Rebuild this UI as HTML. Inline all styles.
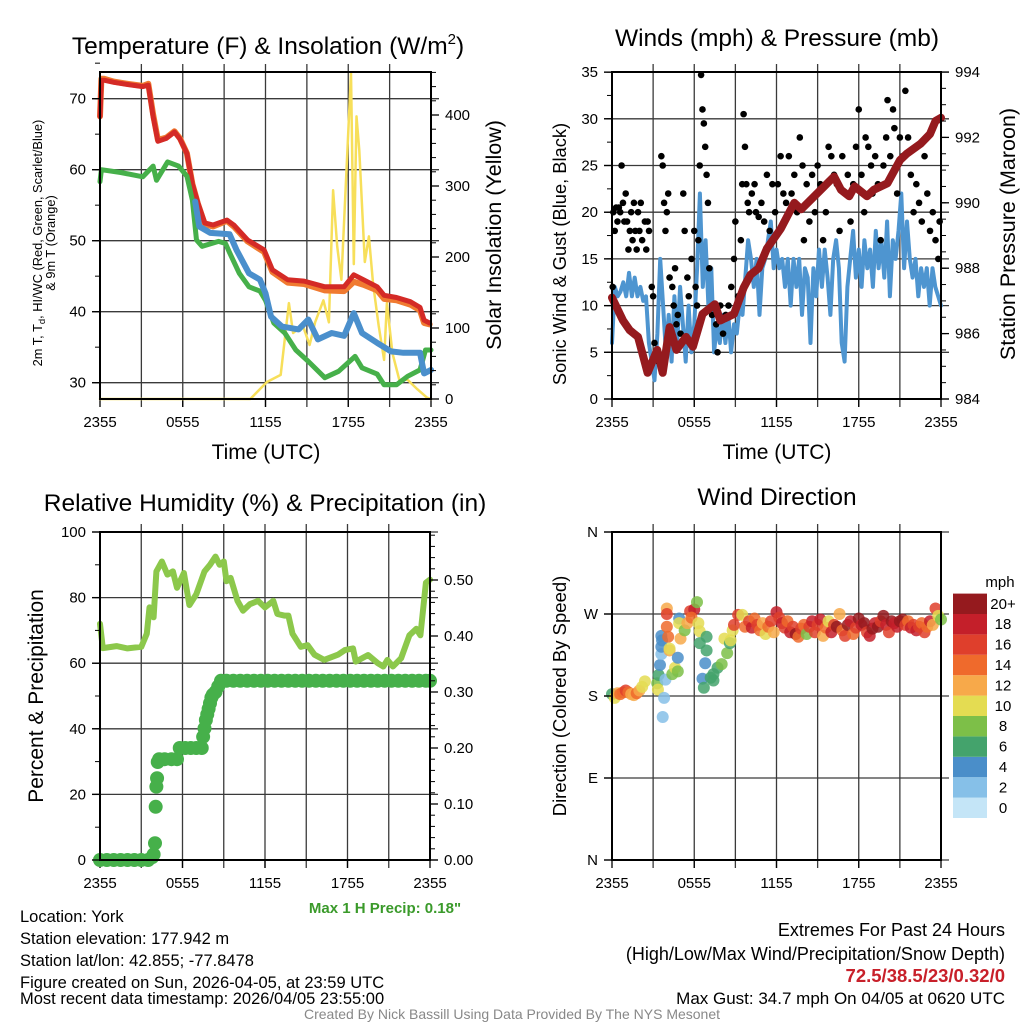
<!DOCTYPE html>
<html><head><meta charset="utf-8"><style>
html,body{margin:0;padding:0;background:#fff;}
svg{display:block;font-family:"Liberation Sans",sans-serif;}
</style></head><body>
<svg id="fig" width="1024" height="1024" viewBox="0 0 1024 1024">
<rect width="1024" height="1024" fill="#fff"/>
<g id="marks"></g>
<g font-size="24.5" text-anchor="middle" fill="#000">
<text x="268" y="54">Temperature (F) &amp; Insolation (W/m<tspan font-size="15" dy="-10">2</tspan><tspan dy="10">)</tspan></text>
<text x="777" y="46">Winds (mph) &amp; Pressure (mb)</text>
<text x="265" y="511">Relative Humidity (%) &amp; Precipitation (in)</text>
<text x="777" y="505">Wind Direction</text>
</g>
<g font-size="21" text-anchor="middle">
<text x="266" y="459">Time (UTC)</text>
<text x="777" y="459">Time (UTC)</text>
<text transform="translate(501,235) rotate(-90)" font-size="21.5">Solar Insolation (Yellow)</text>
<text transform="translate(566,254) rotate(-90)" font-size="18.3">Sonic Wind &amp; Gust (Blue, Black)</text>
<text transform="translate(1015,234) rotate(-90)" font-size="21.5">Station Pressure (Maroon)</text>
<text transform="translate(43,696) rotate(-90)">Percent &amp; Precipitation</text>
<text transform="translate(566,696) rotate(-90)" font-size="18.5">Direction (Colored By Speed)</text>
</g>
<g font-size="12.8" text-anchor="middle">
<text transform="translate(42,243) rotate(-90)">2m T, T<tspan font-size="9.5" dy="3">d</tspan><tspan dy="-3">, HI/WC (Red, Green, Scarlet/Blue)</tspan></text>
<text transform="translate(55,243) rotate(-90)">&amp; 9m T (Orange)</text>
</g>
<text x="385" y="913" font-size="15" font-weight="bold" fill="#3a9a2a" text-anchor="middle">Max 1 H Precip: 0.18"</text>
<g font-size="16.5">
<text x="20" y="922">Location: York</text>
<text x="20" y="944">Station elevation: 177.942 m</text>
<text x="20" y="966">Station lat/lon: 42.855; -77.8478</text>
<text x="20" y="988">Figure created on Sun, 2026-04-05, at 23:59 UTC</text>
<text x="20" y="1004">Most recent data timestamp: 2026/04/05 23:55:00</text>
</g>
<g font-size="18" text-anchor="end">
<text x="1005" y="936">Extremes For Past 24 Hours</text>
<text x="1005" y="960">(High/Low/Max Wind/Precipitation/Snow Depth)</text>
<text x="1005" y="982" fill="#c8202a" font-weight="bold" font-size="18.5">72.5/38.5/23/0.32/0</text>
<text x="1005" y="1004" font-size="17">Max Gust: 34.7 mph On 04/05 at 0620 UTC</text>
</g>
<text x="512" y="1019" font-size="14" fill="#888" text-anchor="middle">Created By Nick Bassill Using Data Provided By The NYS Mesonet</text>
<text x="1000" y="587" font-size="15" text-anchor="middle">mph</text>
</svg>
<script>
// ---------- data ----------
const xTickLabels = ['2355','0555','1155','1755','2355'];
const redHours = [0,0.1,0.3,1,2,3.1,3.5,3.85,4.2,4.8,5.4,5.8,6.3,6.7,7.1,7.6,8.2,9.2,9.7,10.7,11.9,12.5,13.6,14.8,16.3,17.7,18.4,19.1,20.1,20.6,21.5,22.5,23.2,23.5,23.9];
const redTemp = [67.5,72.6,72.6,72.3,72,71.7,71.9,67.5,64,64.4,65.3,64.3,62.3,58,55.3,52.5,52.2,52.9,52.2,50.1,48.7,45.9,44.5,44.3,43.5,43.5,45.2,44.5,43.5,42.3,42,41.4,40.6,38.8,38.4];
const orangeTemp = [67.5,72.8,72.8,72.4,72.1,71.8,72.1,67.8,64.2,64.5,65.4,64.4,62.3,58,55.2,52.3,52,52.8,52,49.9,48.4,45.6,44.1,43.9,43,42.9,44.2,43.8,43,41.8,41.6,41,40.2,38.4,38.2];
const dewHours = [0,0.1,1.5,3.1,3.85,4.1,4.9,5.7,6.3,6.7,7,7.4,8.6,9.1,9.4,10.1,10.8,11.6,12,12.6,13.4,14.2,15.1,16.3,17.3,18.5,19,20.1,20.6,21.5,22.3,23.2,23.6,24];
const dewTemp = [58.3,60,59.6,59,60.5,58.5,61.1,60.5,59.1,55.7,50.1,49.2,49.9,49.6,48.3,45.4,43.5,42.9,41.6,38.4,37,34.6,33,30.7,31.6,33.7,32.1,31.2,29.7,29.7,30.9,31.8,34.6,34.6];
const wcHours = [6.9,7.2,8,9.4,9.9,10.8,11.6,12,12.4,13.2,14.4,15.1,15.8,16.8,17.7,18.4,19,20.1,21.1,22,23.2,23.5,24];
const wcTemp = [55.5,52,51.1,50.9,48.7,45.4,44.5,42.6,39.3,37.9,37.5,38.9,36.1,37,36.6,39.8,37,35.6,34.4,34.2,34.2,31.3,31.8];
const solarHours = [0,10.9,12.1,13.1,13.7,14,14.7,15.2,15.6,16.2,16.6,16.9,17.2,17.5,18.2,18.4,18.6,18.8,19.2,19.5,19.8,20.2,20.6,20.8,21.2,21.7,22.3,23,23.7,24];
const solarVals = [0,0,24,34,135,93,104,76,108,139,108,294,215,168,459,190,398,350,193,229,162,104,55,135,65,27,27,14,2,0];
const tempTicks = [30,40,50,60,70];
const solarTicks = [0,100,200,300,400];

const pressHours = [0,0.8,1.3,1.9,2.6,3.3,3.7,4.2,4.7,5.4,5.9,6.6,7.5,7.9,8.9,9.6,10.1,10.7,11.3,12.3,13.3,13.8,15,16.2,16.7,17.3,17.7,18.6,19.1,20.1,21,21.5,22.5,23.2,23.6,24];
const pressVals = [987.1,986.4,986.1,985.9,984.8,985.5,984.8,986.2,985.5,985.9,985.6,986.6,986.9,986.4,986.6,987.4,987.8,988,988.6,989.2,990,989.8,990.3,990.8,990.4,990.2,990.5,990.2,990.4,990.6,991.3,991.5,991.8,992.1,992.5,992.6];
const windVals = [6,12,11,11.5,12.5,11,13.5,11,13,11,12,10.5,11,6,4,2,7,15,10,5,9,4,11,6,12,8,4,10,5,8,14,22,12,17,10,14,5,8,6,9,6,9,5,8,7,10,9,13,17,15,12,15,9,14,15,17,19,14,16,14,15,12,15,10,15,12,15,9,14,13,6,14,11,16,12,16,13,9,15,17,14,6,4,12,15,18,13,16,12,17,14,16,12,18,14,17,13,19,11,17,15,18,22,14,19,15,13,15,11,14,12,14,10,14,12,11,10];
const gustHours = [0.05,0.1,0.2,0.3,0.4,0.5,0.6,0.7,0.8,0.9,1.0,1.1,1.2,1.3,1.4,1.5,1.6,1.7,1.8,1.9,2.0,2.1,2.2,2.4,2.5,2.6,2.7,2.9,3.0,3.1,3.2,3.3,3.4,3.6,3.7,3.8,3.9,4.0,4.1,4.2,4.4,4.5,4.6,4.7,4.8,5.0,5.2,5.3,5.5,5.6,5.8,6.0,6.1,6.2,6.3,6.4,6.5,6.6,6.7,6.8,6.9,7.0,7.1,7.3,7.5,7.6,7.7,7.9,8.1,8.3,8.5,8.7,8.9,9.0,9.2,9.4,9.5,9.6,9.7,9.8,9.9,10.0,10.2,10.4,10.5,10.7,10.9,11.1,11.3,11.5,11.7,11.9,12.1,12.3,12.5,12.7,12.9,13.1,13.3,13.5,13.7,13.9,14.0,14.2,14.4,14.6,14.8,15.0,15.2,15.4,15.6,15.8,16.0,16.2,16.4,16.6,16.8,17.0,17.2,17.4,17.6,17.8,18.0,18.2,18.4,18.5,18.7,18.9,19.0,19.2,19.4,19.6,19.8,20.0,20.1,20.3,20.5,20.6,20.8,21.0,21.2,21.4,21.6,21.8,22.0,22.2,22.4,22.6,22.8,23.0,23.2,23.4,23.6,23.8,23.9];
const gustVals = [12,20,18,20.5,19,20.5,20,25,21,19,22,19,16,18,20,17,21,18,16,20,18,21,17,19,16,19,18,12,11,6,5,4.5,4,26,25,21,18,20,22,13,12,10,14,8,9,7,22,18,13,11,15,18,12,10,17,25,34.7,31,29.5,27,24,21,14,9,10,8,5,10,7,9,10,12,15,19,11,17,23,30.5,27,23,21,20,22,23,20,19.5,21,19,24,18,23,20,23,26,22,21,26,22,24,20,28,25,17,23,19,24,20,25,23,17,20,27,26,24,23,18,26,22,24,19,23,27,31,24,20,28,27,25,22,26,23,17,25,28,32,26,31,29,22,28,26,33,28,24,20,23,21,19,26,22,18,20,17,15,19];
const windTicks = [0,5,10,15,20,25,30,35];
const pressTicks = [984,986,988,990,992,994];

const rhHours = [0,0.2,1.2,2,3,3.4,3.6,3.9,4.1,4.5,4.9,5.3,5.6,6.1,6.5,7,7.6,8,8.4,8.7,9,9.2,9.5,10,10.4,10.9,11.5,12,12.6,12.9,13.4,13.7,14,14.6,15.1,15.6,16.3,17.3,17.8,18.4,18.6,19.5,20.2,20.6,20.9,21.3,21.9,22.5,23,23.3,23.7,24];
const rhVals = [72,64.6,65.2,64.5,65,69,77,74,88,91,87,88,83,87.5,77.7,81,88,90,92.5,90,91,85,86,79,76,78,79,77,79,75,74.5,74.5,69,65,65.5,62.6,61,62.6,64,64.5,60.5,62.5,60,59,61,59,61.5,68.5,70.5,68.5,84.5,85.5];
const precipHours = [0,0.5,1,1.5,2,2.5,3,3.5,3.8,3.9,4.0,4.05,4.1,4.15,4.2,4.3,4.7,5.2,5.6,5.8,6.2,6.6,7.0,7.4,7.5,7.6,7.7,7.8,7.9,8.0,8.1,8.2,8.4,8.6,8.8,9.2,9.7,10.2,10.7,11.2,11.7,12.2,12.7,13.2,13.7,14.2,14.7,15.2,15.7,16.2,16.7,17.2,17.7,18.2,18.7,19.2,19.7,20.2,20.7,21.2,21.7,22.2,22.7,23.2,23.7,24];
const precipVals = [0,0,0,0,0,0,0,0,0.005,0.01,0.03,0.095,0.131,0.146,0.175,0.18,0.18,0.18,0.18,0.2,0.2,0.2,0.2,0.2,0.22,0.235,0.25,0.26,0.27,0.28,0.29,0.295,0.3,0.31,0.32,0.32,0.32,0.32,0.32,0.32,0.32,0.32,0.32,0.32,0.32,0.32,0.32,0.32,0.32,0.32,0.32,0.32,0.32,0.32,0.32,0.32,0.32,0.32,0.32,0.32,0.32,0.32,0.32,0.32,0.32,0.32];
const rhTicks = [0,20,40,60,80,100];
const precipTicks = ['0.00','0.10','0.20','0.30','0.40','0.50'];

const dirHours = [0.0,0.2,0.4,0.6,0.8,1.0,1.2,1.4,1.6,1.8,2.0,2.2,2.4,3.3,3.35,3.4,3.5,3.6,3.6,3.65,3.7,3.8,3.9,3.6,4.0,4.0,4.0,4.1,4.2,4.2,4.4,4.6,4.8,4.8,4.9,4.9,5.0,5.3,5.5,5.7,6.0,6.2,5.8,6.3,6.4,6.4,6.9,6.9,6.8,6.6,6.7,7.4,7.7,8.0,7.4,7.2,8.2,8.4,8.6,8.65,8.8,8.9,9.2,9.5,9.7,10.0,10.2,10.4,10.6,10.8,11.0,11.2,11.4,11.6,11.8,12.0,12.2,12.4,12.6,12.8,13.0,13.2,13.4,13.6,13.8,14.0,14.2,14.4,14.6,14.8,15.0,15.2,15.4,15.6,15.8,16.0,16.2,16.4,16.6,16.8,17.0,17.2,17.4,17.6,17.8,18.0,18.2,18.4,18.6,18.8,19.0,19.2,19.4,19.6,19.8,20.0,20.2,20.4,20.6,20.8,21.0,21.2,21.4,21.6,21.8,22.0,22.2,22.4,22.6,22.8,23.0,23.2,23.4,23.6,23.8,24.0];
const dirDeg = [182,178,183,182,184,186,184,182,181,183,186,190,196,194,187,203,214,246,226,241,157,178,198,234,276,270,256,245,230,232,204,211,207,222,265,260,243,252,260,273,275,283,266,260,251,238,245,230,216,199,189,204,211,215,197,200,243,227,238,241,252,258,269,269,256,262,255,265,258,252,260,248,256,262,250,272,266,260,255,262,250,256,248,245,254,258,248,256,262,250,258,264,246,255,262,250,258,256,270,252,246,258,262,248,255,265,258,260,250,246,254,260,256,262,268,258,250,262,260,256,262,264,258,262,255,258,252,256,260,250,256,262,258,276,268,264];
const dirSpd = [6,10,12,13,14,15,14,12,12,13,11,10,9,8,10,6,4,4,2,4,2,1,2,4,12,16,14,14,12,10,7,10,7,4,4,10,12,7,12,16,18,7,13,10,10,6,6,6,4,4,6,6,6,7,6,5,10,7,6,10,10,16,16,10,14,16,18,14,16,14,12,10,14,16,12,18,16,18,16,14,18,16,20,14,16,14,8,16,18,16,16,18,12,14,10,18,16,20,12,14,16,20,18,14,16,20,18,20,16,18,20,18,20,16,22,18,16,20,18,18,20,22,16,14,18,16,18,16,14,16,14,18,12,16,10,8];
const dirTicks = ['N','W','S','E','N'];
const cbLabels = ['0','2','4','6','8','10','12','14','16','18','20+'];
const cbColors = ['#c4e5f7','#86c0e8','#4a8ec9','#44a36c','#7dbf48','#e4dc52','#f7a94a','#ef6a2c','#df3f2c','#c41f2a','#951a1e'];

// ---------- helpers ----------
const NS='http://www.w3.org/2000/svg';
const root=document.getElementById('marks');
function el(tag,attrs,parent){const e=document.createElementNS(NS,tag);for(const k in attrs)e.setAttribute(k,attrs[k]);(parent||root).appendChild(e);return e;}
const P1={x0:100,x1:431,y0:72,y1:399}, P2={x0:612,x1:941,y0:72,y1:399}, P3={x0:100,x1:430,y0:532,y1:860}, P4={x0:612,x1:941,y0:532,y1:860};
function xs(P,h){return P.x0+(P.x1-P.x0)*h/24;}
const yT=v=>399-(v-27.7)*7.1, yS=v=>399-v*0.71, yW=v=>399-v*9.34, yP=v=>399-(v-984)*32.7;
const yR=v=>860-v*3.28, yQ=v=>860-v*560, yD=v=>860-v*328/360;

function frame(P,name,hGrid){
  const g=el('g',{});
  
  
  for(let i=1;i<8;i++){const x=xs(P,i*3);el('line',{x1:x,x2:x,y1:P.y0-8,y2:P.y1+8,stroke:'#3a3a3a','stroke-width':1.3},g);}
  hGrid.forEach(y=>el('line',{x1:P.x0-8,x2:P.x1+8,y1:y,y2:y,stroke:'#3a3a3a','stroke-width':1.3},g));
  const xl=el('g',{'font-size':15,'text-anchor':'middle'});
  
  
  xTickLabels.forEach((t,i)=>{el('line',{x1:xs(P,i*6),x2:xs(P,i*6),y1:P.y1,y2:P.y1+8,stroke:'#000','stroke-width':1.3},g);const tx=el('text',{x:xs(P,i*6),y:P.y1+28},xl);tx.textContent=t;});
}
function border(P,name){
  const r=el('rect',{x:P.x0,y:P.y0,width:P.x1-P.x0,height:P.y1-P.y0,fill:'none',stroke:'#000','stroke-width':2});
  
  
}
function yAxis(P,vals,fy,labels,side,name,minors){
  const g=el('g',{'font-size':15,'text-anchor':side==='l'?'end':'start'});
  
  
  const x=side==='l'?P.x0:P.x1, d=side==='l'?-1:1;
  (minors||[]).forEach(v=>{const y=fy(v);el('line',{x1:x,x2:x+d*5,y1:y,y2:y,stroke:'#000','stroke-width':1},g);});
  vals.forEach((v,i)=>{const y=fy(v);el('line',{x1:x,x2:x+d*8,y1:y,y2:y,stroke:'#000','stroke-width':1.3},g);const t=el('text',{x:x+d*14,y:y+5},g);t.textContent=labels[i];});
}
function line(P,hs,vs,fy,color,w,name){
  const d=hs.map((h,i)=>(i?'L':'M')+xs(P,h).toFixed(1)+' '+fy(vs[i]).toFixed(1)).join(' ');
  const p=el('path',{d:d,fill:'none',stroke:color,'stroke-width':w,'stroke-linejoin':'round','stroke-linecap':'round'});
  
  
}
function range(a,b,s){const r=[];for(let v=a;v<=b+1e-9;v+=s)r.push(+v.toFixed(3));return r;}

// ---------- panel 1 ----------
frame(P1,'temp',tempTicks.map(yT));
line(P1,solarHours,solarVals,yS,'#f7df5a',2.5,'insolation-line');
line(P1,redHours,orangeTemp,yT,'#f07a30',6,'temp-9m-line');
line(P1,redHours,redTemp,yT,'#d42a26',5,'temp-2m-line');
line(P1,dewHours,dewTemp,yT,'#46b04a',5,'dewpoint-line');
line(P1,wcHours,wcTemp,yT,'#4a8fcc',6,'windchill-line');
border(P1,'temp');
yAxis(P1,tempTicks,yT,tempTicks.map(String),'l','temp-y-axis',range(30,75,5));
yAxis(P1,solarTicks,yS,solarTicks.map(String),'r','solar-y-axis',range(0,460,20));

// ---------- panel 2 ----------
frame(P2,'winds',windTicks.map(yW));
line(P2,windVals.map((v,i)=>i*24/(windVals.length-1)),windVals,yW,'#4e95d0',4,'sonic-wind-line');
const gg=el('g',{fill:'#000'});


gustHours.forEach((h,i)=>{const c=el('circle',{cx:xs(P2,h),cy:yW(gustVals[i]),r:3.3},gg);

});
line(P2,pressHours,pressVals,yP,'#951a1e',8,'pressure-line');
border(P2,'winds');
yAxis(P2,windTicks,yW,windTicks.map(String),'l','wind-y-axis',range(0,35,2.5));
yAxis(P2,pressTicks,yP,pressTicks.map(String),'r','pressure-y-axis',range(984,994,0.5));

// ---------- panel 3 ----------
frame(P3,'humidity',rhTicks.map(yR));
line(P3,rhHours,rhVals,yR,'#8cc84b',6,'humidity-line');
const pg=el('g',{fill:'#46b04a'});


precipHours.forEach((h,i)=>{const c=el('circle',{cx:xs(P3,h),cy:yQ(precipVals[i]),r:7},pg);

});
border(P3,'humidity');
yAxis(P3,rhTicks,yR,rhTicks.map(String),'l','humidity-y-axis',range(0,100,10));
yAxis(P3,precipTicks.map(Number),yQ,precipTicks,'r','precip-y-axis',range(0,0.58,0.02));

// ---------- panel 4 ----------
const dirVals=[360,270,180,90,0];
frame(P4,'direction',dirVals.map(yD));
const dg=el('g',{'fill-opacity':0.85});


dirHours.forEach((h,i)=>{const k=Math.min(10,Math.round(dirSpd[i]/2));const c=el('circle',{cx:xs(P4,h),cy:yD(dirDeg[i]),r:6,fill:cbColors[k]},dg);

});
border(P4,'direction');
yAxis(P4,dirVals,yD,dirTicks,'l','direction-y-axis',[]);
// colorbar
const cb=el('g',{'font-size':15});


const cbH=20.4, cbBottom=818;
cbColors.forEach((c,i)=>{const y=cbBottom-(i+1)*cbH;el('rect',{x:953,y:y,width:34,height:cbH,fill:c},cb);const t=el('text',{x:1003,y:y+cbH/2+5,'text-anchor':'middle'},cb);t.textContent=cbLabels[i];});
</script>
</body></html>
